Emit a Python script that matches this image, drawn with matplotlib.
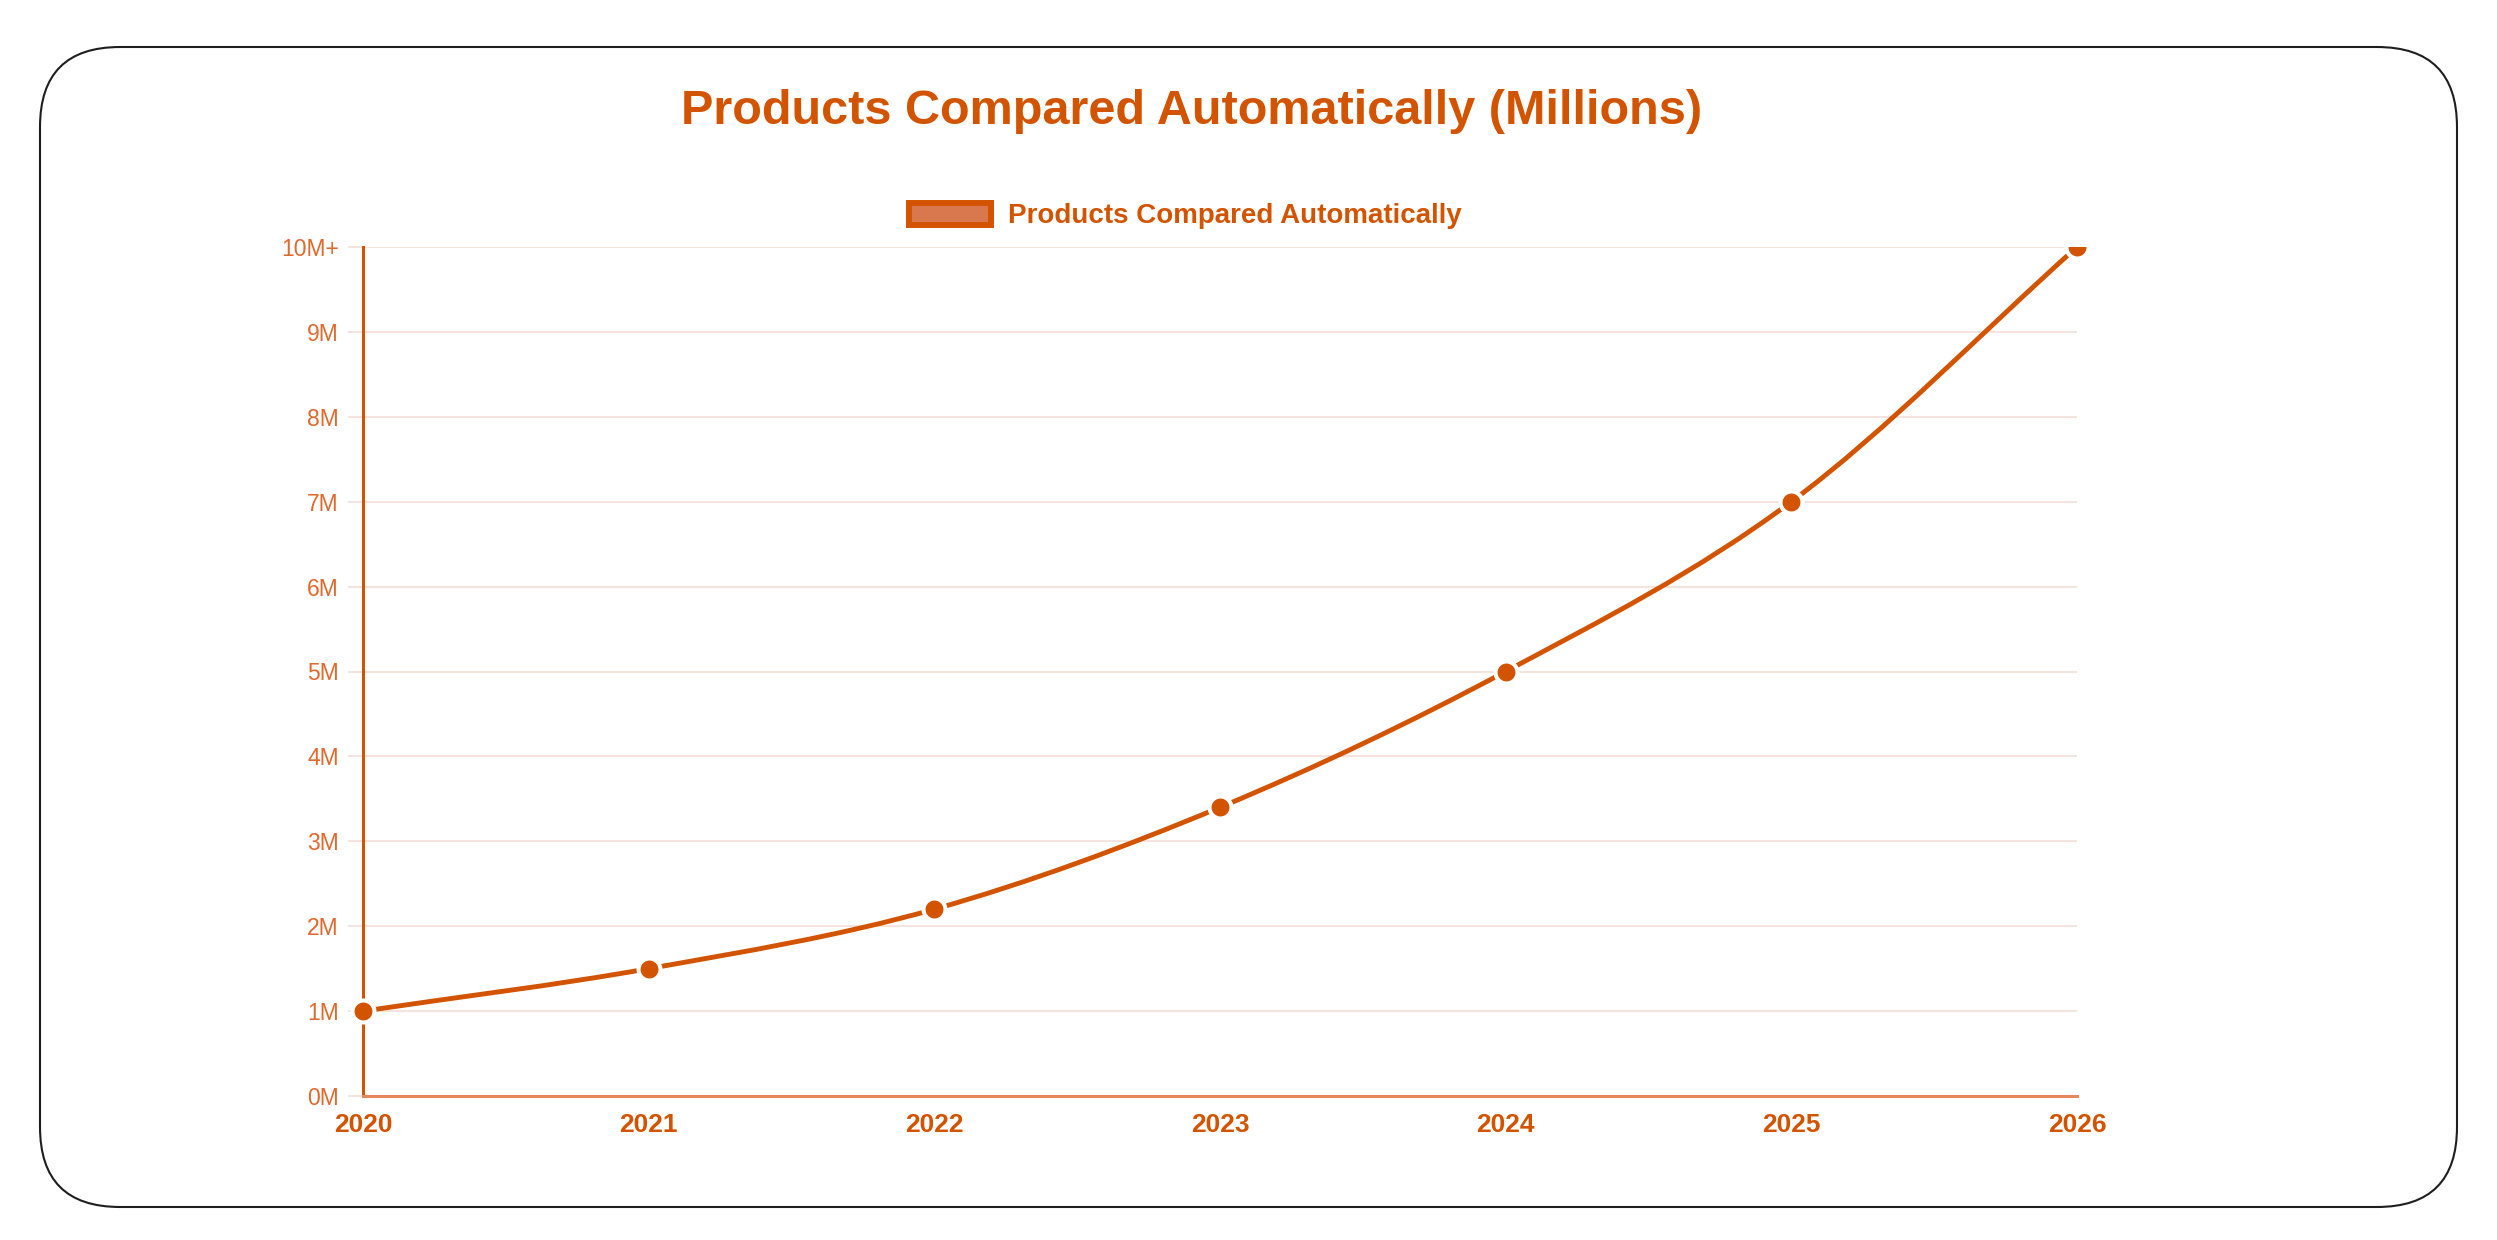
import numpy as np
import matplotlib
matplotlib.use('Agg')
import matplotlib.pyplot as plt
from matplotlib.path import Path
from matplotlib.patches import PathPatch, FancyBboxPatch, Patch, Rectangle
from matplotlib.transforms import IdentityTransform

# ---- data ----
years = [2020, 2021, 2022, 2023, 2024, 2025, 2026]
values = [1.0, 1.5, 2.2, 3.4, 5.0, 7.0, 10.0]          # millions
y_ticks = [0, 1, 2, 3, 4, 5, 6, 7, 8, 9, 10]
y_tick_labels = ['0M', '1M', '2M', '3M', '4M', '5M', '6M', '7M', '8M', '9M', '10M+']
x_tick_labels = [str(y) for y in years]
title = 'Products Compared Automatically (Millions)'
series_label = 'Products Compared Automatically'

# ---- style ----
ORANGE = '#d35400'
YLAB = '#e0692d'
GRID = '#f2dcd3'
BOTTOM_SPINE = '#e5875a'
LEG_FILL = '#d9784f'

W, H = 2497, 1240
DPI = 100
plt.rcParams['font.family'] = ['Liberation Sans', 'DejaVu Sans']
fig = plt.figure(figsize=(W / DPI, H / DPI), dpi=DPI, facecolor='white')

ax_l, ax_r, ax_t, ax_b = 363, 2077, 247, 1096
ax = fig.add_axes([ax_l / W, (H - ax_b) / H, (ax_r - ax_l) / W, (ax_b - ax_t) / H])
ax.set_xlim(years[0], years[-1])
ax.set_ylim(y_ticks[0], y_ticks[-1])


def monotone_path(xs, ys):
    """Monotone cubic (Fritsch-Carlson) curve through the points, as Bezier path."""
    x = np.asarray(xs, float)
    y = np.asarray(ys, float)
    n = len(x)
    dk = np.diff(y) / np.diff(x)
    mk = np.zeros(n)
    mk[0] = dk[0]
    mk[-1] = dk[-1]
    for i in range(1, n - 1):
        if dk[i - 1] == 0 or dk[i] == 0 or np.sign(dk[i - 1]) != np.sign(dk[i]):
            mk[i] = 0
        else:
            mk[i] = (dk[i - 1] + dk[i]) / 2
    for i in range(n - 1):
        if dk[i] == 0:
            mk[i] = mk[i + 1] = 0
            continue
        a = mk[i] / dk[i]
        b = mk[i + 1] / dk[i]
        tau = a * a + b * b
        if tau > 9:
            t = 3 / np.sqrt(tau)
            mk[i] = a * t * dk[i]
            mk[i + 1] = b * t * dk[i]
    verts = [(x[0], y[0])]
    codes = [Path.MOVETO]
    for i in range(n - 1):
        dx = (x[i + 1] - x[i]) / 3
        verts += [(x[i] + dx, y[i] + mk[i] * dx),
                  (x[i + 1] - dx, y[i + 1] - mk[i + 1] * dx),
                  (x[i + 1], y[i + 1])]
        codes += [Path.CURVE4] * 3
    return Path(verts, codes)


curve = PathPatch(monotone_path(years, values), fill=False, edgecolor=ORANGE,
                  lw=3.5, capstyle='round', joinstyle='round', zorder=3)
ax.add_patch(curve)

pts, = ax.plot(years, values, 'o', ms=15.8, mfc=ORANGE, mec='white', mew=2.9,
               zorder=4)
clip_rect = Rectangle((-0.05, -0.05), 1.1, 1.05, transform=ax.transAxes)
pts.set_clip_path(clip_rect)

# axes styling
for s in ('top', 'right'):
    ax.spines[s].set_visible(False)
ax.spines['left'].set_color(ORANGE)
ax.spines['left'].set_linewidth(2.2)
ax.spines['bottom'].set_color(BOTTOM_SPINE)
ax.spines['bottom'].set_linewidth(2.2)
ax.set_axisbelow(True)
ax.yaxis.grid(True, color=GRID, lw=1.1)
ax.xaxis.grid(False)

ax.set_yticks(y_ticks)
ax.set_yticklabels(y_tick_labels)
ax.tick_params(axis='y', length=10.8, width=1.1, color=GRID, pad=6.5,
               labelsize=16.5, labelcolor=YLAB)
ax.set_xticks(years)
ax.set_xticklabels(x_tick_labels, fontweight='bold', color=ORANGE)
ax.tick_params(axis='x', length=0, pad=12, labelsize=19)

# title
fig.text(1192 / W, 1 - 124 / H, title, ha='center', va='baseline',
         fontsize=35, fontweight='bold', color=ORANGE)

# legend
fs = 20
fs_px = fs * DPI / 72
handle = Patch(facecolor=LEG_FILL, edgecolor=ORANGE, lw=4.3, label=series_label)
fig.legend(handles=[handle], loc='center', bbox_to_anchor=(1185 / W, 1 - 216 / H),
           frameon=False, prop={'weight': 'bold', 'size': fs}, labelcolor=ORANGE,
           handlelength=82 / fs_px, handleheight=24 / fs_px,
           handletextpad=17 / fs_px, borderpad=0, borderaxespad=0)

# rounded card border
card = FancyBboxPatch((40, 33), 2417, 1160, boxstyle='round,pad=0,rounding_size=80',
                      transform=IdentityTransform(), fill=False, ec='#1e1e1e', lw=1.5)
fig.add_artist(card)

fig.savefig('out.png', dpi=DPI, facecolor='white')
